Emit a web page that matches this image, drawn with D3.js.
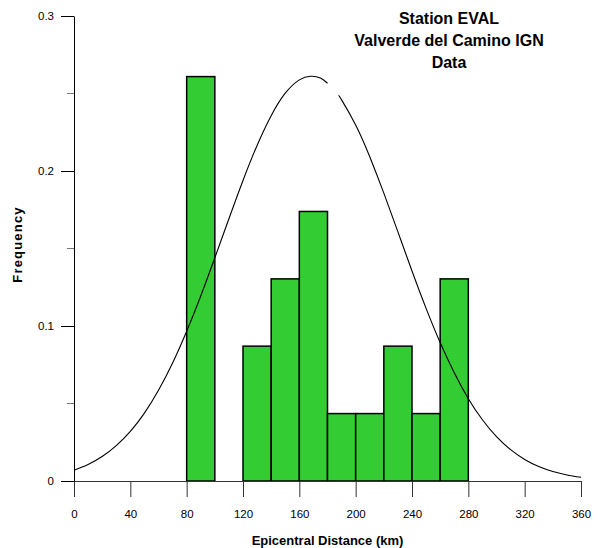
<!DOCTYPE html>
<html>
<head>
  <meta charset="utf-8">
  <script src="https://d3js.org/d3.v7.min.js"></script>
  <style>
    body { margin: 0; background: #fff; }
    svg text { font-family: "Liberation Sans", Arial, sans-serif; fill: #000; }
    .tick-label { font-size: 11.5px; }
    .axis-title { font-size: 13px; font-weight: bold; }
    .title { font-size: 16px; font-weight: bold; }
    .bar { fill: #33cc33; stroke: #000; stroke-width: 1.5px; }
    .curve { fill: none; stroke: #000; stroke-width: 1.1px; }
  </style>
</head>
<body>
  <svg id="chart" width="608" height="548"></svg>
  <script>
    // histogram bins (km) and frequencies
    const binStarts = [80, 120, 140, 160, 180, 200, 220, 240, 260];
    const binWidth = 20;
    const frequencies = [0.2609, 0.0870, 0.1304, 0.1739, 0.0435, 0.0435, 0.0870, 0.0435, 0.1304];

    // fitted normal curve (two pieces, broken near the top)
    const curveLeftX = [0, 10, 20, 30, 40, 50, 60, 70, 80, 90, 100, 110, 120, 130, 140, 150, 160, 168, 175, 180];
    const curveLeftY = [0.0070, 0.0107, 0.0158, 0.0228, 0.0320, 0.0438, 0.0585, 0.0761, 0.0966, 0.1194, 0.1440, 0.1692, 0.1939, 0.2165, 0.2357, 0.2502, 0.2588, 0.2611, 0.2600, 0.2566];
    const curveRightX = [188, 190, 200, 210, 220, 230, 240, 250, 260, 270, 280, 290, 300, 310, 320, 330, 340, 350, 360];
    const curveRightY = [0.2485, 0.2459, 0.2297, 0.2092, 0.1857, 0.1607, 0.1355, 0.1114, 0.0893, 0.0698, 0.0531, 0.0395, 0.0286, 0.0202, 0.0139, 0.0093, 0.0061, 0.0039, 0.0024];

    const xTicks = [0, 40, 80, 120, 160, 200, 240, 280, 320, 360];
    const yTicks = [0, 0.1, 0.2, 0.3];
    const yMinorTicks = [0.05, 0.15, 0.25];
    const titleLines = ["Station EVAL", "Valverde del Camino IGN", "Data"];

    const svg = d3.select("#chart");
    const margin = { top: 16, right: 27, bottom: 67, left: 74 };
    const width = +svg.attr("width") - margin.left - margin.right;
    const height = +svg.attr("height") - margin.top - margin.bottom;
    const g = svg.append("g").attr("transform", `translate(${margin.left},${margin.top})`);

    const x = d3.scaleLinear().domain([0, 360]).range([0, width]);
    const y = d3.scaleLinear().domain([0, 0.3]).range([height, 0]);

    // bars
    g.selectAll("rect.bar").data(binStarts)
      .join("rect").attr("class", "bar")
      .attr("x", d => x(d))
      .attr("width", x(binWidth) - x(0))
      .attr("y", (d, i) => y(frequencies[i]))
      .attr("height", (d, i) => y(0) - y(frequencies[i]));

    // normal curve
    const line = d3.line().x(d => x(d[0])).y(d => y(d[1])).curve(d3.curveNatural);
    g.append("path").attr("class", "curve").attr("d", line(d3.zip(curveLeftX, curveLeftY)));
    g.append("path").attr("class", "curve").attr("d", line(d3.zip(curveRightX, curveRightY)));

    // x axis
    const xAxis = g.append("g").attr("transform", `translate(0,${height})`)
      .call(d3.axisBottom(x).tickValues(xTicks).tickSize(16).tickSizeOuter(0).tickPadding(13));
    xAxis.select(".domain").attr("stroke", "#333");
    xAxis.selectAll(".tick line").attr("stroke", "#333");
    xAxis.selectAll(".tick text").attr("class", "tick-label").attr("font-size", null).attr("font-family", null);

    // y axis
    const yAxis = g.append("g")
      .call(d3.axisLeft(y).tickValues(yTicks).tickFormat(d => d === 0 ? "0" : d3.format(".1f")(d))
        .tickSize(13).tickSizeOuter(0).tickPadding(7));
    yAxis.select(".domain").attr("stroke", "#000");
    yAxis.selectAll(".tick line").attr("stroke", "#000");
    yAxis.selectAll(".tick text").attr("class", "tick-label").attr("font-size", null).attr("font-family", null);

    g.append("g").selectAll("line").data(yMinorTicks)
      .join("line")
      .attr("x1", -7).attr("x2", 0)
      .attr("y1", d => y(d)).attr("y2", d => y(d))
      .attr("stroke", "#777");

    // axis titles
    svg.append("text").attr("class", "axis-title")
      .attr("x", margin.left + width / 2).attr("y", 545)
      .attr("text-anchor", "middle").text("Epicentral Distance (km)");
    svg.append("text").attr("class", "axis-title")
      .attr("transform", `translate(22,${margin.top + height / 2 - 4}) rotate(-90)`)
      .attr("text-anchor", "middle").attr("letter-spacing", "1.2px").text("Frequency");

    // title
    svg.append("g").selectAll("text").data(titleLines)
      .join("text").attr("class", "title")
      .attr("x", 449).attr("y", (d, i) => 24 + i * 22)
      .attr("text-anchor", "middle").text(d => d);
  </script>
</body>
</html>
